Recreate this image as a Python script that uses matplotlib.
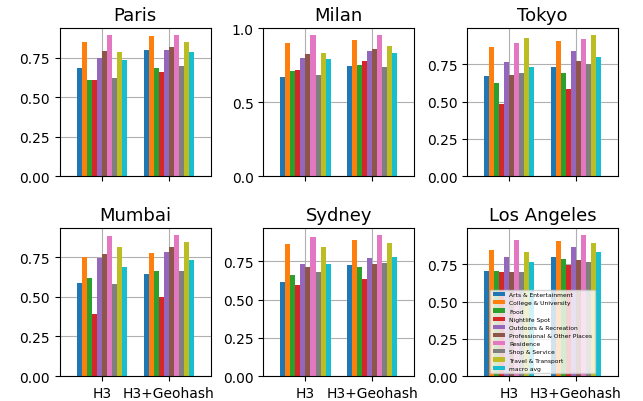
import numpy as np
import matplotlib
matplotlib.use('Agg')
import matplotlib.pyplot as plt

# --------------------------
# Data (F1 per category)
# --------------------------
methods = ['H3', 'H3+Geohash']
categories = ['Arts & Entertainment', 'College & University', 'Food', 'Nightlife Spot',
              'Outdoors & Recreation', 'Professional & Other Places', 'Residence',
              'Shop & Service', 'Travel & Transport', 'macro avg']
cities = ['Paris', 'Milan', 'Tokyo', 'Mumbai', 'Sydney', 'Los Angeles']

paris_h3 = [0.682, 0.848, 0.611, 0.611, 0.746, 0.791, 0.893, 0.620, 0.786, 0.733]
paris_geo = [0.795, 0.887, 0.686, 0.656, 0.799, 0.820, 0.891, 0.697, 0.846, 0.788]
milan_h3 = [0.667, 0.899, 0.707, 0.714, 0.797, 0.827, 0.950, 0.685, 0.831, 0.788]
milan_geo = [0.743, 0.921, 0.750, 0.779, 0.847, 0.860, 0.953, 0.736, 0.881, 0.831]
tokyo_h3 = [0.671, 0.869, 0.628, 0.484, 0.768, 0.678, 0.894, 0.694, 0.930, 0.736]
tokyo_geo = [0.736, 0.910, 0.696, 0.588, 0.840, 0.773, 0.923, 0.750, 0.948, 0.800]
mumbai_h3 = [0.588, 0.748, 0.620, 0.393, 0.744, 0.769, 0.882, 0.581, 0.814, 0.686]
mumbai_geo = [0.643, 0.774, 0.660, 0.498, 0.782, 0.812, 0.889, 0.660, 0.844, 0.729]
sydney_h3 = [0.613, 0.861, 0.659, 0.593, 0.733, 0.711, 0.911, 0.678, 0.841, 0.730]
sydney_geo = [0.728, 0.889, 0.711, 0.637, 0.770, 0.733, 0.922, 0.739, 0.870, 0.778]
la_h3 = [0.709, 0.850, 0.707, 0.698, 0.802, 0.702, 0.911, 0.702, 0.834, 0.768]
la_geo = [0.798, 0.907, 0.784, 0.748, 0.870, 0.777, 0.948, 0.768, 0.893, 0.834]

scores = {
    'Paris': [paris_h3, paris_geo],
    'Milan': [milan_h3, milan_geo],
    'Tokyo': [tokyo_h3, tokyo_geo],
    'Mumbai': [mumbai_h3, mumbai_geo],
    'Sydney': [sydney_h3, sydney_geo],
    'Los Angeles': [la_h3, la_geo],
}

# y tick step per panel
tick_step = {'Paris': 0.25, 'Milan': 0.5, 'Tokyo': 0.25,
             'Mumbai': 0.25, 'Sydney': 0.25, 'Los Angeles': 0.25}

bar_width = 0.075
x = np.arange(len(methods))

fig, axes = plt.subplots(2, 3, figsize=(6.43, 4.02), dpi=100, sharex=True)

for ax, city in zip(axes.flat, cities):
    vals = np.array(scores[city])  # shape (methods, categories)
    for i, cat in enumerate(categories):
        ax.bar(x + (i - 4.5) * bar_width, vals[:, i], width=bar_width, color=f'C{i}', label=cat)
    ax.set_title(city, fontsize=13)
    ax.grid(True)
    ax.set_axisbelow(True)
    ax.yaxis.set_major_locator(plt.MultipleLocator(tick_step[city]))
    ax.set_xticks(x)
    ax.set_xticklabels(methods)
    ax.set_xlim(-0.63, 1.63)

axes[1, 2].legend(loc='lower center', fontsize=4.3)

plt.subplots_adjust(left=0.093, right=0.961, top=0.928, bottom=0.062, wspace=0.35, hspace=0.35)
plt.savefig('out.png', dpi=100)
